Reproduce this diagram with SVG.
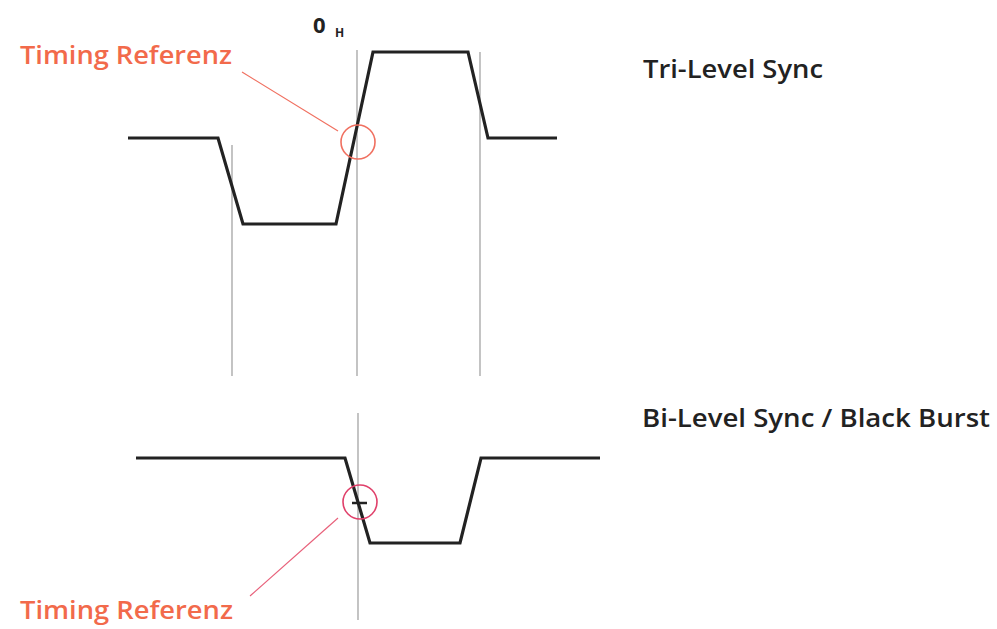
<svg xmlns="http://www.w3.org/2000/svg" width="997" height="629" viewBox="0 0 997 629">
<style>
.wave{fill:none;stroke:#222;stroke-width:3.2;stroke-linejoin:miter}
.grid{stroke:#b5b5b5;stroke-width:1.6}
.ring{fill:none;stroke-width:1.6}
.lead{stroke-width:1.2}
.ref{font-family:"Open Sans","Liberation Sans",sans-serif;font-weight:600;font-size:26px;fill:#f26a4b}
.lbl{font-family:"Open Sans","Liberation Sans",sans-serif;font-weight:600;font-size:26px;fill:#222}
</style>
<rect width="997" height="629" fill="#fff"/>
<g id="grid">
<line class="grid" x1="232" y1="145" x2="232" y2="376"/>
<line class="grid" x1="357" y1="50" x2="357" y2="376"/>
<line class="grid" x1="480" y1="52" x2="480" y2="376"/>
<line class="grid" x1="358" y1="413" x2="358" y2="620"/>
</g>
<g id="tri-level">
<polyline class="wave" points="128,138 218,138 243,224 336,224 373,52 468,52 488,138 557,138"/>
<text class="lbl" x="643" y="78" textLength="180" lengthAdjust="spacingAndGlyphs">Tri-Level Sync</text>
</g>
<g id="bi-level">
<polyline class="wave" points="136,458 345,458 370,543 460,543 481,458 600,458"/>
<line x1="352" y1="503" x2="367" y2="503" stroke="#222" stroke-width="2.5"/>
<text class="lbl" x="642" y="427" textLength="348" lengthAdjust="spacingAndGlyphs">Bi-Level Sync / Black Burst</text>
</g>
<g id="zero-h">
<text x="313" y="33" font-family="Open Sans, Liberation Sans, sans-serif" font-weight="700" font-size="22" fill="#222">0</text>
<text x="335" y="37" font-family="Open Sans, Liberation Sans, sans-serif" font-weight="700" font-size="12" fill="#222">H</text>
</g>
<g id="timing-ref-top">
<text class="ref" x="20" y="64" textLength="212" lengthAdjust="spacingAndGlyphs">Timing Referenz</text>
<circle class="ring" cx="358" cy="142" r="17" stroke="#f07060"/>
</g>
<g id="timing-ref-bottom">
<text class="ref" x="20" y="619" textLength="213" lengthAdjust="spacingAndGlyphs">Timing Referenz</text>
<circle class="ring" cx="360" cy="502" r="17" stroke="#e0406a"/>
</g>
<g id="connectors">
<line class="lead" x1="242" y1="72" x2="338" y2="131" stroke="#f07060"/>
<line class="lead" x1="338" y1="518" x2="250" y2="596" stroke="#e8607a"/>
</g>
</svg>
